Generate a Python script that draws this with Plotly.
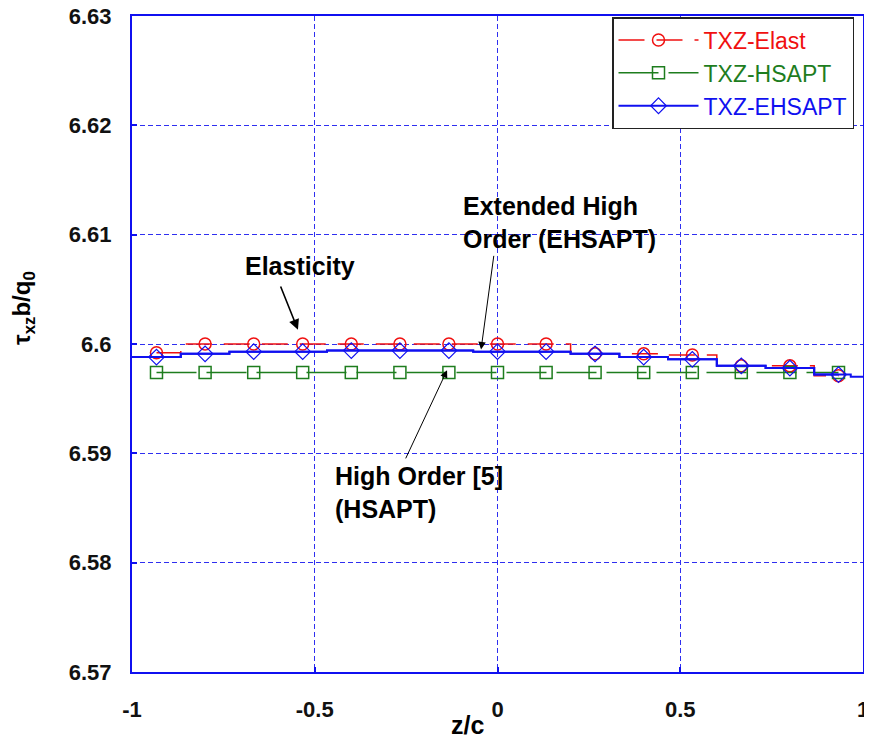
import plotly.graph_objects as go

# ---- data ----
Z = [-0.933, -0.8, -0.667, -0.533, -0.4, -0.267, -0.133, 0.0,
     0.133, 0.267, 0.4, 0.533, 0.667, 0.8, 0.933]
ELAST = [6.5992, 6.6000, 6.6000, 6.6000, 6.6000, 6.6000, 6.6000, 6.6000,
         6.6000, 6.5991, 6.5991, 6.5990, 6.5980, 6.5980, 6.5971]
HSAPT = [6.5974, 6.5974, 6.5974, 6.5974, 6.5974, 6.5974, 6.5974, 6.5974,
         6.5974, 6.5974, 6.5974, 6.5974, 6.5974, 6.5974, 6.5974]
EHSAPT = [6.5988, 6.5991, 6.5993, 6.5993, 6.5994, 6.5994, 6.5994, 6.5993,
          6.5993, 6.5991, 6.5988, 6.5986, 6.5980, 6.5978, 6.5972]
EHSAPT_EDGE_Z = [-1.0, 1.0]
EHSAPT_EDGE = [6.5988, 6.5970]

X_TICKS = [-1, -0.5, 0, 0.5, 1]
X_LABELS = ["-1", "-0.5", "0", "0.5", "1"]
Y_TICKS = [6.57, 6.58, 6.59, 6.60, 6.61, 6.62, 6.63]
Y_LABELS = ["6.57", "6.58", "6.59", "6.6", "6.61", "6.62", "6.63"]

RED = "#f01010"
GREEN = "#1e7d1e"
BLUE = "#1010f0"
GRID = "#2f2ff0"
FONT = "Liberation Sans"

# page body adds an 8px offset; plot area sits at x 132..863, y 16..672 in the window
OFF = 8
PL, PR, PT, PB = 132, 863, 16, 672

fig = go.Figure()

fig.add_trace(go.Scatter(
    x=Z, y=ELAST, mode="lines+markers",
    name=f"<span style='color:{RED}'>TXZ-Elast</span>",
    line=dict(color=RED, width=1.5, dash="26px,12px", shape="hvh"),
    marker=dict(symbol="circle-open", size=12, color=RED, line=dict(width=1.5)),
))
fig.add_trace(go.Scatter(
    x=Z, y=HSAPT, mode="lines+markers",
    name=f"<span style='color:{GREEN}'>TXZ-HSAPT</span>",
    line=dict(color=GREEN, width=1.5, dash="40px,10px"),
    marker=dict(symbol="square-open", size=12, color=GREEN, line=dict(width=1.5)),
))
fig.add_trace(go.Scatter(
    x=[EHSAPT_EDGE_Z[0]] + Z + [EHSAPT_EDGE_Z[1]],
    y=[EHSAPT_EDGE[0]] + EHSAPT + [EHSAPT_EDGE[1]],
    mode="lines", showlegend=False, hoverinfo="skip",
    line=dict(color=BLUE, width=2, shape="hvh"),
))
fig.add_trace(go.Scatter(
    x=Z, y=EHSAPT, mode="lines+markers",
    name=f"<span style='color:{BLUE}'>TXZ-EHSAPT</span>",
    line=dict(color=BLUE, width=2, shape="hvh"),
    marker=dict(symbol="diamond-open", size=12, color=BLUE, line=dict(width=1.2)),
))

axis_common = dict(
    showgrid=True, gridcolor=GRID, griddash="5px,3px", gridwidth=1.3,
    showline=True, linecolor=BLUE, linewidth=2, mirror=True,
    zeroline=False, ticks="inside", ticklen=5, tickcolor=BLUE, tickwidth=2,
    automargin=False, ticklabeloverflow="allow",
    tickfont=dict(family=FONT, size=22, weight="bold", color="#111111"),
)

W, H = 872 - OFF, 744 - OFF
fig.update_layout(
    width=W, height=H,
    margin=dict(l=PL - OFF, r=W - (PR - OFF), t=PT - OFF, b=H - (PB - OFF)),
    paper_bgcolor="white", plot_bgcolor="white",
    font=dict(family=FONT, color="#111111"),
    showlegend=True,
    legend=dict(
        x=(612 - PL) / (PR - PL), y=(PB - 17) / (PB - PT), xanchor="left", yanchor="top",
        bgcolor="white", bordercolor="#222222", borderwidth=1.5,
        font=dict(family=FONT, size=23), itemwidth=80,
        tracegroupgap=0,
    ),
    xaxis=dict(range=[-1, 1], tickvals=X_TICKS, ticktext=X_LABELS,
               ticklabelstandoff=17, **axis_common),
    yaxis=dict(range=[6.57, 6.63], tickvals=Y_TICKS, ticktext=Y_LABELS,
               ticklabelstandoff=14, **axis_common),
)

bold = dict(family=FONT, size=25, color="black", weight="bold")

# axis titles
fig.add_annotation(text="z/c", xref="paper", yref="paper",
                   x=(467 - PL) / (PR - PL), y=(PB - 725) / (PB - PT),
                   showarrow=False, font=dict(family=FONT, size=25, weight="bold", color="black"),
                   xanchor="center", yanchor="middle")
fig.add_annotation(text="τ<sub>xz</sub>b/q<sub>0</sub>", xref="paper", yref="paper",
                   x=(24 - PL) / (PR - PL), y=(PB - 308) / (PB - PT), textangle=-90,
                   showarrow=False, font=dict(family=FONT, size=24, weight="bold", color="black"),
                   xanchor="center", yanchor="middle")

# text labels
fig.add_annotation(text="Elasticity", x=-0.54, y=6.6071, showarrow=False,
                   font=bold, xanchor="center", yanchor="middle")
fig.add_annotation(text="Extended High<br>Order (EHSAPT)", x=-0.10, y=6.6111,
                   showarrow=False, font=bold, xanchor="left", yanchor="middle", align="left")
fig.add_annotation(text="High Order [5]<br>(HSAPT)", x=-0.45, y=6.5864,
                   showarrow=False, font=bold, xanchor="left", yanchor="middle", align="left")

# arrows
fig.add_annotation(text="", x=-0.546, y=6.6013, ax=-0.595, ay=6.6054,
                   axref="x", ayref="y", showarrow=True, arrowhead=2,
                   arrowsize=1.3, arrowwidth=1.6, arrowcolor="black")
fig.add_annotation(text="", x=-0.045, y=6.5995, ax=-0.0096, ay=6.6082,
                   axref="x", ayref="y", showarrow=True, arrowhead=2,
                   arrowsize=1.5, arrowwidth=1, arrowcolor="black")
fig.add_annotation(text="", x=-0.138, y=6.5976, ax=-0.253, ay=6.5894,
                   axref="x", ayref="y", showarrow=True, arrowhead=2,
                   arrowsize=1.5, arrowwidth=1, arrowcolor="black")

fig.write_html("out.html")
